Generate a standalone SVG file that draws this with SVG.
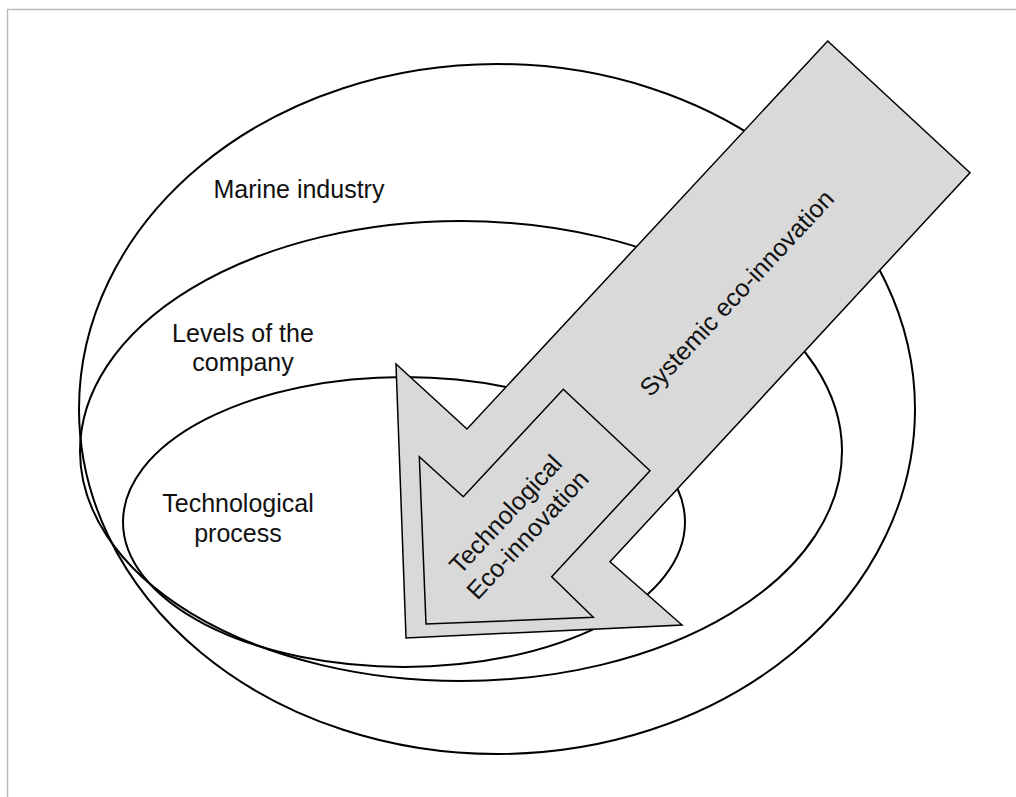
<svg xmlns="http://www.w3.org/2000/svg" width="1016" height="797" viewBox="0 0 1016 797">
  <style>
    .ring { fill: none; stroke: #000; stroke-width: 2; }
    .arrow { fill: #d9d9d9; stroke: #000; stroke-width: 1.5; stroke-linejoin: miter; }
    .lbl { font-family: "Liberation Sans", Arial, sans-serif; font-size: 25px; fill: #111; text-anchor: middle; }
  </style>
  <rect x="0" y="0" width="1016" height="797" fill="#fff"/>
  <path d="M7.5,797 V9.5 H1016" fill="none" stroke="#bcbcbc" stroke-width="1.5"/>

  <g id="marine-industry">
    <ellipse class="ring" cx="497" cy="409" rx="418" ry="345"/>
    <text class="lbl" x="299" y="198">Marine industry</text>
  </g>
  <g id="levels-of-company">
    <ellipse class="ring" cx="461" cy="451" rx="381" ry="230"/>
    <text class="lbl" x="243" y="342">Levels of the</text>
    <text class="lbl" x="243" y="371">company</text>
  </g>
  <g id="technological-process">
    <ellipse class="ring" cx="404" cy="522" rx="281" ry="145"/>
    <text class="lbl" x="238" y="512">Technological</text>
    <text class="lbl" x="238" y="542">process</text>
  </g>

  <g id="systemic-eco-innovation">
    <polygon class="arrow" points="827.7,41 970,172.7 610,561.7 682,625 406,638 396,364 467,429"/>
    <text class="lbl" transform="translate(743,299) rotate(-47)">Systemic eco-innovation</text>
  </g>
  <g id="technological-eco-innovation">
    <polygon class="arrow" points="563.3,389.3 650,470.7 551.7,576.7 593.3,617.3 426,624 419.3,456.7 463.3,496.7"/>
    <text class="lbl" transform="translate(511.8,520.1) rotate(-47)">Technological</text>
    <text class="lbl" transform="translate(533.8,540.5) rotate(-47)">Eco-innovation</text>
  </g>
  <g id="connectors"></g>
</svg>
